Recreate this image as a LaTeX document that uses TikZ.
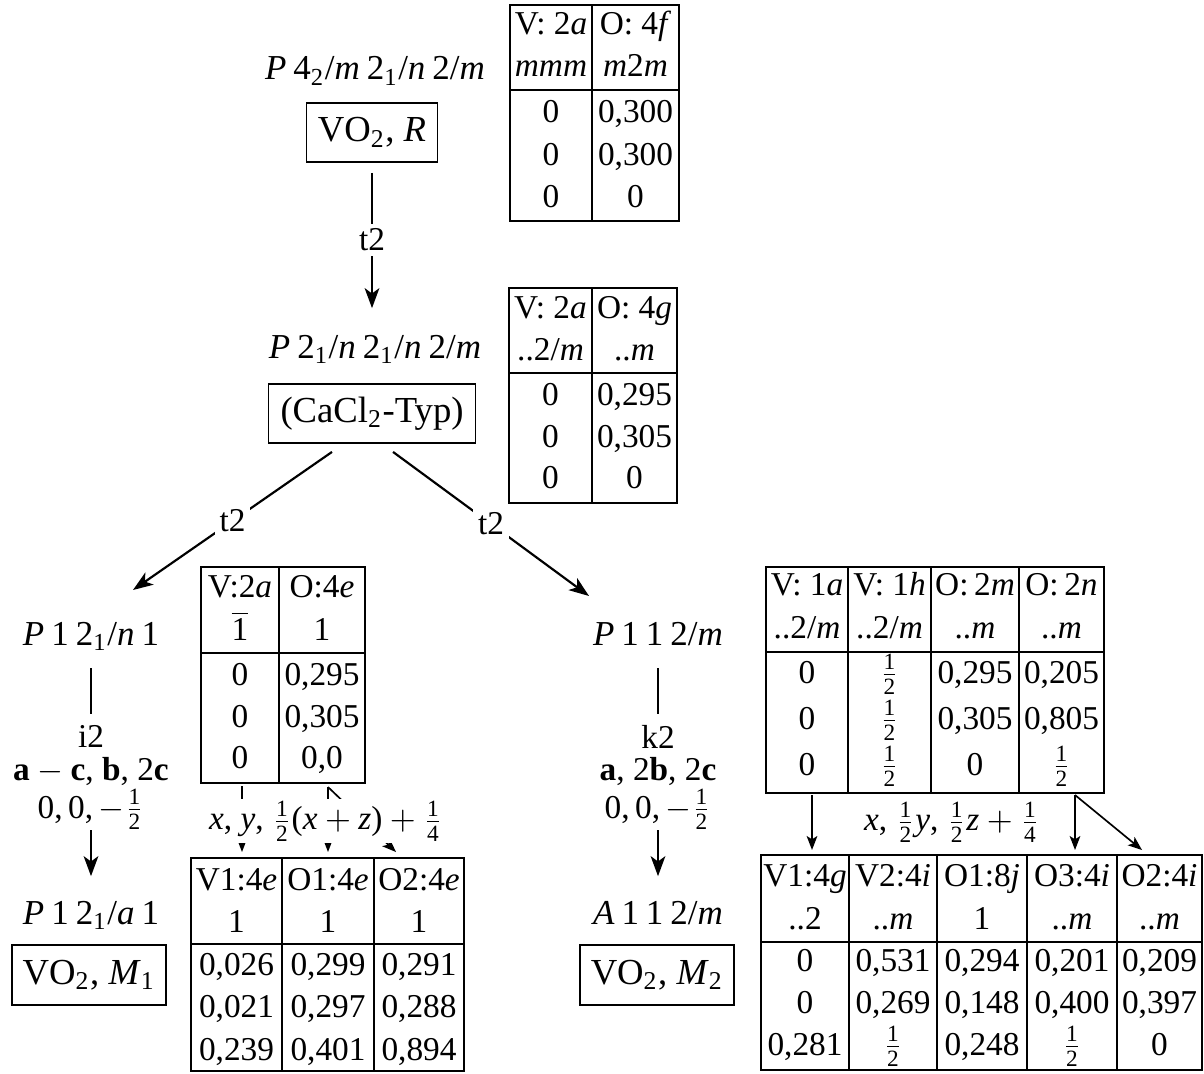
\documentclass[tikz,border=0pt]{standalone}
\usepackage{amsmath}
\usepackage{fontspec}
\setmainfont{Liberation Serif}
\usetikzlibrary{arrows.meta}
\newcommand{\hf}{$\frac{\text{1}}{\text{2}}$}
\newcommand{\qf}{$\frac{\text{1}}{\text{4}}$}
\newcommand{\sgsp}{\hspace{0.2em}}

\begin{document}
\begin{tikzpicture}[x=0.3pt, y=-0.3pt,
  sg/.style={font=\fontsize{10.5}{12}\selectfont, inner sep=0pt, anchor=base},
  cell/.style={font=\fontsize{10}{12}\selectfont, inner sep=0pt, anchor=base},
  frame/.style={draw, line width=0.55pt, inner sep=0pt, font=\fontsize{11}{13}\selectfont},
  tab/.style={line width=0.5pt},
  conn/.style={line width=0.65pt},
  big/.style={-{Stealth[length=6pt, width=4.4pt, inset=1.6pt]}},
  small/.style={line width=0.5pt, -{Stealth[length=4.2pt, width=3.2pt, inset=1pt]}},
  lbl/.style={font=\fontsize{10}{12}\selectfont, fill=white, inner sep=1.5pt},
  tr/.style={font=\fontsize{10}{12}\selectfont, fill=white, inner sep=0.5pt}]
  \useasboundingbox (0,0) rectangle (1204,1073);

  % rutile and CaCl2 type
  \node[sg] (sgR) at (375,80) {\textit{P}\sgsp4\textsubscript{2}/\textit{m}\sgsp2\textsubscript{1}/\textit{n}\sgsp2/\textit{m}};
  \node[frame, minimum width=39.3pt, minimum height=17.7pt] (boxR) at (372,132.5) {VO\textsubscript{2}, \textit{R}};
  \node[sg] (sgC) at (375,358) {\textit{P}\sgsp2\textsubscript{1}/\textit{n}\sgsp2\textsubscript{1}/\textit{n}\sgsp2/\textit{m}};
  \node[frame, minimum width=62.1pt, minimum height=17.7pt] (boxC) at (372,413.5) {(CaCl\textsubscript{2}-Typ)};
  \draw[conn, big, shorten <=3pt, shorten >=7.8pt] (boxR.south) -- node[lbl, pos=0.45] {t2} (boxR.south |- sgC.north);

  % left branch
  \node[sg] (sgA) at (91,645) {\textit{P}\sgsp1\sgsp2\textsubscript{1}/\textit{n}\sgsp1};
  \node[cell] (iA) at (91,747) {i2};
  \node[cell] (bA) at (91,780) {\textbf{a}${}-{}$\textbf{c}, \textbf{b}, 2\textbf{c}};
  \node[cell] (oA) at (91,818) {0,\,0,\,$-$\hf};
  \node[sg] (sgM1) at (91,924) {\textit{P}\sgsp1\sgsp2\textsubscript{1}/\textit{a}\sgsp1};
  \node[frame, minimum width=46.2pt, minimum height=18pt] (boxM1) at (89,975) {VO\textsubscript{2}, \textit{M}\textsubscript{1}};
  \draw[conn, shorten <=7pt, shorten >=3pt] (sgA.base) -- (iA.north);
  \draw[conn, big, shorten >=7.2pt] (oA.south) -- (sgM1.north);

  % right branch
  \node[sg] (sgB) at (658,645) {\textit{P}\sgsp1\sgsp1\sgsp2/\textit{m}};
  \node[cell] (kB) at (658,748) {k2};
  \node[cell] (bB) at (658,780) {\textbf{a}, 2\textbf{b}, 2\textbf{c}};
  \node[cell] (oB) at (658,818) {0,\,0,\,$-$\hf};
  \node[sg] (sgM2) at (658,924) {\textit{A}\sgsp1\sgsp1\sgsp2/\textit{m}};
  \node[frame, minimum width=46.2pt, minimum height=18pt] (boxM2) at (657,975) {VO\textsubscript{2}, \textit{M}\textsubscript{2}};
  \draw[conn, shorten <=7pt, shorten >=3pt] (sgB.base) -- (kB.north);
  \draw[conn, big, shorten >=7.2pt] (oB.south) -- (sgM2.north);

  % t2 branches
  \coordinate (cL) at ([shift={(-40,8)}]boxC.south);
  \coordinate (cR) at ([shift={(21,8)}]boxC.south);
  \coordinate (tipA) at (133,590);
  \coordinate (tipB) at (589,596);
  \draw[conn, big] (cL) -- node[lbl] {t2} (tipA);
  \draw[conn, big] (cR) -- node[lbl] {t2} (tipB);

  % table R
  \draw[tab] (510,5) rectangle (679,221);
  \draw[tab] (510,90) -- (679,90) (592,5) -- (592,221);
  \foreach \x/\a/\b/\c/\d/\e [count=\i] in {551/{V: 2\textit{a}}/{\textit{mmm}}/0/0/0,
      635.5/{O: 4\textit{f}}/{\textit{m}2\textit{m}}/{0,300}/{0,300}/0}{
    \node[cell] (R-\i-1) at (\x,35) {\a};
    \node[cell] (R-\i-2) at (\x,77) {\b};
    \node[cell] (R-\i-3) at (\x,123) {\c};
    \node[cell] (R-\i-4) at (\x,165) {\d};
    \node[cell] (R-\i-5) at (\x,207) {\e};
  }

  % table C
  \draw[tab] (509,288) rectangle (677,503);
  \draw[tab] (509,373) -- (677,373) (592,288) -- (592,503);
  \foreach \x/\a/\b/\c/\d/\e [count=\i] in {550.5/{V: 2\textit{a}}/{..2/\textit{m}}/0/0/0,
      634.5/{O: 4\textit{g}}/{..\textit{m}}/{0,295}/{0,305}/0}{
    \node[cell] (C-\i-1) at (\x,318) {\a};
    \node[cell] (C-\i-2) at (\x,360) {\b};
    \node[cell] (C-\i-3) at (\x,405) {\c};
    \node[cell] (C-\i-4) at (\x,447) {\d};
    \node[cell] (C-\i-5) at (\x,488) {\e};
  }

  % table P 1 21/n 1
  \draw[tab] (201,567) rectangle (365,783);
  \draw[tab] (201,653) -- (365,653) (279,567) -- (279,783);
  \foreach \x/\a/\b/\c/\d/\e [count=\i] in {240/{V:2\textit{a}}/{$\overline{\text{1}}$}/0/0/0,
      322/{O:4\textit{e}}/1/{0,295}/{0,305}/{0,0}}{
    \node[cell] (A-\i-1) at (\x,597) {\a};
    \node[cell] (A-\i-2) at (\x,640) {\b};
    \node[cell] (A-\i-3) at (\x,685) {\c};
    \node[cell] (A-\i-4) at (\x,727) {\d};
    \node[cell] (A-\i-5) at (\x,768) {\e};
  }

  % table M1
  \draw[tab] (191,858) rectangle (464,1071);
  \draw[tab] (191,944) -- (464,944) (282,858) -- (282,1071) (374,858) -- (374,1071);
  \foreach \x/\a/\c/\d/\e [count=\i] in {236.5/{V1:4\textit{e}}/{0,026}/{0,021}/{0,239},
      328/{O1:4\textit{e}}/{0,299}/{0,297}/{0,401},
      419/{O2:4\textit{e}}/{0,291}/{0,288}/{0,894}}{
    \node[cell] (M1-\i-1) at (\x,890) {\a};
    \node[cell] (M1-\i-2) at (\x,932) {1};
    \node[cell] (M1-\i-3) at (\x,975) {\c};
    \node[cell] (M1-\i-4) at (\x,1017) {\d};
    \node[cell] (M1-\i-5) at (\x,1060) {\e};
  }

  % table P 1 1 2/m
  \draw[tab] (766,567) rectangle (1104,793);
  \draw[tab] (766,652) -- (1104,652);
  \foreach \x in {848,931,1019} \draw[tab] (\x,567) -- (\x,793);
  \foreach \x/\a/\b/\c/\d/\e [count=\i] in {807/{V: 1\textit{a}}/{..2/\textit{m}}/0/0/0,
      889.5/{V: 1\textit{h}}/{..2/\textit{m}}/\hf/\hf/\hf,
      975/{O:\,2\textit{m}}/{..\textit{m}}/{0,295}/{0,305}/0,
      1061.5/{O:\,2\textit{n}}/{..\textit{m}}/{0,205}/{0,805}/\hf}{
    \node[cell] (B-\i-1) at (\x,595) {\a};
    \node[cell] (B-\i-2) at (\x,638) {\b};
    \node[cell] (B-\i-3) at (\x,683) {\c};
    \node[cell] (B-\i-4) at (\x,729) {\d};
    \node[cell] (B-\i-5) at (\x,775) {\e};
  }

  % table M2
  \draw[tab] (761,855) rectangle (1202,1070);
  \draw[tab] (761,942) -- (1202,942);
  \foreach \x in {849,937,1027,1117} \draw[tab] (\x,855) -- (\x,1070);
  \foreach \x/\a/\b/\c/\d/\e [count=\i] in {805/{V1:4\textit{g}}/{..2}/0/0/{0,281},
      893/{V2:4\textit{i}}/{..\textit{m}}/{0,531}/{0,269}/\hf,
      982/{O1:8\textit{j}}/1/{0,294}/{0,148}/{0,248},
      1072/{O3:4\textit{i}}/{..\textit{m}}/{0,201}/{0,400}/\hf,
      1159.5/{O2:4\textit{i}}/{..\textit{m}}/{0,209}/{0,397}/0}{
    \node[cell] (M2-\i-1) at (\x,886) {\a};
    \node[cell] (M2-\i-2) at (\x,929) {\b};
    \node[cell] (M2-\i-3) at (\x,971) {\c};
    \node[cell] (M2-\i-4) at (\x,1013) {\d};
    \node[cell] (M2-\i-5) at (\x,1055) {\e};
  }

  % atom transformations
  \coordinate (aV) at (242,786);
  \coordinate (aO) at (328,787);
  \coordinate (m1V) at (242,852);
  \coordinate (m1O1) at (328,852);
  \coordinate (m1O2) at (396,852);
  \draw[small] (aV) -- (m1V);
  \draw[small] (aO) -- (m1O1);
  \draw[small] (aO) -- (m1O2);
  \node[tr] (trA) at (326,821) {\textit{x}, \textit{y}, \hf(\textit{x}${}+{}$\textit{z})${}+{}$\qf};

  \coordinate (bV) at (812,795);
  \coordinate (bO) at (1075,795);
  \coordinate (m2V) at (812,850);
  \coordinate (m2O3) at (1075,850);
  \coordinate (m2O2) at (1142,850);
  \draw[small] (bV) -- (m2V);
  \draw[small] (bO) -- (m2O3);
  \draw[small] (bO) -- (m2O2);
  \node[tr] (trB) at (952,822) {\textit{x}, \hf\textit{y}, \hf\textit{z}${}+{}$\qf};
\end{tikzpicture}
\end{document}
